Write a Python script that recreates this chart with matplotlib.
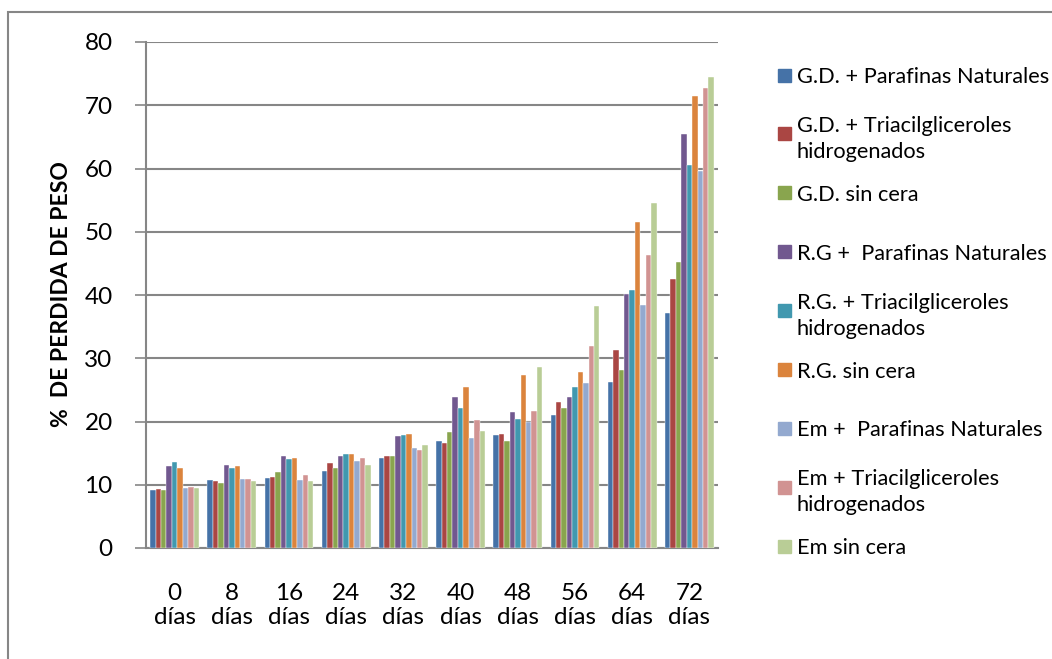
import numpy as np
import matplotlib
matplotlib.use("Agg")
import matplotlib.pyplot as plt
from matplotlib.patches import Rectangle

plt.rcParams['font.family'] = ['Lato', 'DejaVu Sans']

# Data
dias = ["0\ndías", "8\ndías", "16\ndías", "24\ndías", "32\ndías",
        "40\ndías", "48\ndías", "56\ndías", "64\ndías", "72\ndías"]

series_names = [
    "G.D. + Parafinas Naturales",
    "G.D. + Triacilgliceroles\nhidrogenados",
    "G.D. sin cera",
    "R.G +  Parafinas Naturales",
    "R.G. + Triacilgliceroles\nhidrogenados",
    "R.G. sin cera",
    "Em +  Parafinas Naturales",
    "Em + Triacilgliceroles\nhidrogenados",
    "Em sin cera",
]

gd_parafinas = [9.2, 10.7, 11.1, 12.2, 14.2, 16.9, 17.9, 21.0, 26.2, 37.1]
gd_triacil = [9.4, 10.6, 11.3, 13.4, 14.6, 16.6, 18.1, 23.1, 31.3, 42.6]
gd_sin = [9.1, 10.2, 12.0, 12.7, 14.5, 18.3, 16.9, 22.2, 28.1, 45.2]
rg_parafinas = [12.9, 13.1, 14.6, 14.6, 17.7, 23.8, 21.5, 23.9, 40.1, 65.5]
rg_triacil = [13.6, 12.6, 14.0, 14.8, 17.9, 22.2, 20.4, 25.4, 40.8, 60.5]
rg_sin = [12.6, 12.9, 14.2, 14.8, 18.0, 25.5, 27.3, 27.9, 51.6, 71.5]
em_parafinas = [9.5, 10.9, 10.8, 13.7, 15.8, 17.4, 19.9, 26.1, 38.4, 59.6]
em_triacil = [9.7, 10.9, 11.5, 14.3, 15.5, 20.3, 21.6, 32.0, 46.4, 72.7]
em_sin = [9.5, 10.6, 10.6, 13.1, 16.3, 18.5, 28.6, 38.3, 54.5, 74.5]

series = [gd_parafinas, gd_triacil, gd_sin, rg_parafinas, rg_triacil,
          rg_sin, em_parafinas, em_triacil, em_sin]
colors = ["#4572A7", "#AA4643", "#89A54E", "#71588F", "#4198AF",
          "#DB843D", "#93A9CF", "#D19392", "#B9CD96"]

W, H = 1052, 659
fig = plt.figure(figsize=(W / 100, H / 100), dpi=100)
ax = fig.add_axes([146 / W, 1 - 548 / H, (718 - 146) / W, (548 - 42) / H])

x = np.arange(len(dias))
n = len(series)
group = 0.85
bw = group / n
for i, (vals, c) in enumerate(zip(series, colors)):
    ax.bar(x - group / 2 + bw * (i + 0.5), vals, width=bw, color=c,
           edgecolor="white", linewidth=0.3, zorder=3)

grid_c = "#868686"
ax.set_xlim(-0.5, len(dias) - 0.5)
ax.set_ylim(0, 80)
ax.set_yticks(range(0, 81, 10))
ax.yaxis.grid(True, color=grid_c, linewidth=1.5, zorder=0)
ax.set_xticks(x)
ax.set_xticklabels(dias, fontsize=17.5, linespacing=1.2)
ax.tick_params(axis="x", length=0, pad=25)
ax.tick_params(axis="y", length=8, width=1.2, color=grid_c, labelsize=17.5, pad=16)
for s in ["top", "right"]:
    ax.spines[s].set_visible(False)
ax.spines["left"].set_color(grid_c)
ax.spines["left"].set_linewidth(1.5)
ax.spines["bottom"].set_color(grid_c)
ax.spines["bottom"].set_linewidth(1.5)

fig.text(62 / W, 1 - 294 / H, "%  DE PERDIDA DE PESO", rotation=90,
         fontsize=16.5, fontweight="bold", ha="center", va="center")

# legend drawn at fixed slots like the Excel original
for i, (name, c) in enumerate(zip(series_names, colors)):
    yc = 75 + 58.9 * i
    fig.patches.append(Rectangle((778 / W, 1 - (yc + 6.5) / H), 13 / W, 13 / H,
                                 transform=fig.transFigure, color=c))
    fig.text(797 / W, 1 - yc / H, name, fontsize=15.7, ha="left",
             va="center_baseline", linespacing=1.38)

# outer frame
fig.patches.append(Rectangle((8 / W, -0.05), 1.2, 1 - 12 / H + 0.05,
                             transform=fig.transFigure, fill=False,
                             edgecolor=grid_c, linewidth=1.5))

fig.savefig("out.png", dpi=100)
